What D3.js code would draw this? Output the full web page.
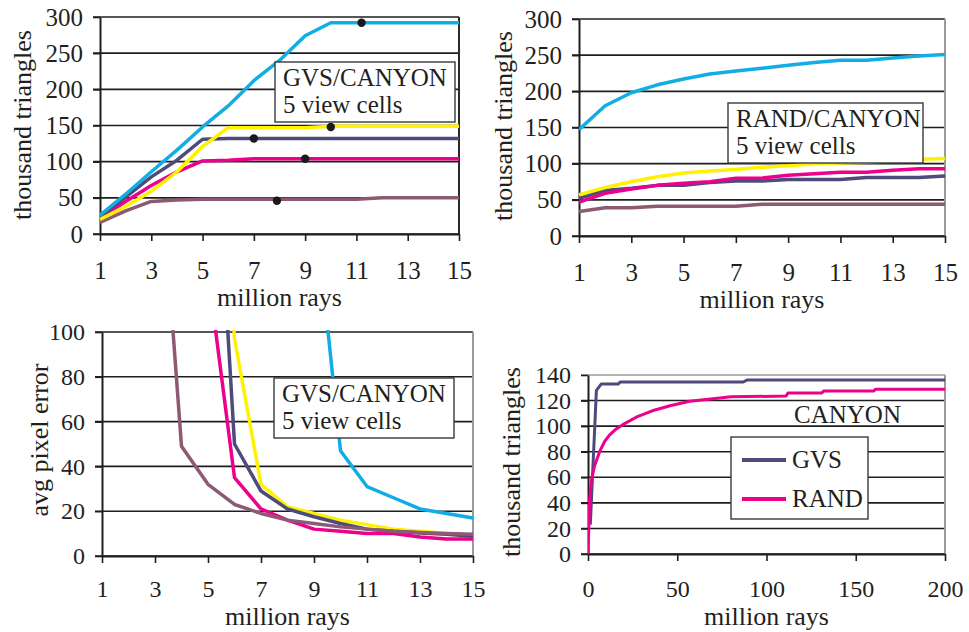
<!DOCTYPE html>
<html>
<head>
<meta charset="utf8" />
<script src="https://cdn.jsdelivr.net/npm/d3@7"></script>
<style>
  body { margin: 0; background: #fff; }
  text { font-family: "Liberation Serif", "Times New Roman", serif; fill: #231f20; }
</style>
</head>
<body>
<script>
// ---- data ----
var rays = [1, 2, 3, 4, 5, 6, 7, 8, 9, 10, 11, 12, 13, 14, 15];
var oddTicks = [1, 3, 5, 7, 9, 11, 13, 15];

// top-left: GVS, thousand triangles
var gvsCyan    = [26, 55, 86, 116, 148, 177, 212, 240, 274, 292, 292, 292, 292, 292, 292];
var gvsYellow  = [20, 38, 59, 86, 121, 147, 147, 147, 147, 149, 149, 149, 149, 149, 149];
var gvsNavy    = [24, 51, 79, 102, 131, 132, 132, 132, 132, 132, 132, 132, 132, 132, 132];
var gvsMagenta = [22, 45, 67, 86, 101, 102, 104, 104, 104, 104, 104, 104, 104, 104, 104];
var gvsMauve   = [16, 32, 45, 47, 48, 48, 48, 48, 48, 48, 48, 50, 50, 50, 50];
var gvsDotX = [11.2, 10, 7, 9, 7.9];
var gvsDotY = [292, 148, 132, 104, 46];

// top-right: RAND, thousand triangles
var randCyan    = [147, 180, 198, 209, 217, 224, 228, 232, 236, 240, 243, 243, 246, 249, 251];
var randYellow  = [57, 67, 75, 82, 87, 90, 92, 95, 97, 100, 101, 102, 104, 106, 107];
var randNavy    = [52, 63, 66, 70, 70, 74, 76, 76, 78, 78, 78, 81, 81, 81, 83];
var randMagenta = [47, 59, 65, 70, 73, 75, 80, 80, 84, 86, 88, 88, 91, 93, 93];
var randMauve   = [34, 39, 39, 41, 41, 41, 41, 44, 44, 44, 44, 44, 44, 44, 44];

// bottom-left: GVS, avg pixel error (values above 100 are clipped by the plot)
var errCyan    = [null, null, null, null, null, null, null, null, 160, 47, 31, 26, 21, 19, 17];
var errYellow  = [null, null, null, null, 300, 97, 32, 22, 19, 16, 14, 12, 11, 10, 8.5];
var errNavy    = [null, null, null, null, 249, 50, 29, 21, 17.5, 14.5, 12, 11, 10.3, 9.7, 8.8];
var errMagenta = [null, null, null, null, 127, 35, 21, 16, 12, 11, 10, 10, 8.5, 7.6, 7.6];
var errMauve   = [null, null, 209, 49, 32, 23, 19, 16, 14.5, 13, 12, 11, 10.5, 10, 9.7];

// bottom-right: CANYON, GVS vs RAND
var canyonGvsRays  = [1.3, 4.7, 7.5, 17, 18, 87, 89, 200];
var canyonGvsTris  = [23, 128, 133, 133, 134.5, 134.5, 136, 136];
var canyonRandRays = [0, 0.9, 1.9, 3.7, 6.5, 9.3, 12, 16, 20.5, 27, 36, 46, 57, 70, 80, 111, 112, 131, 132, 160, 161, 200];
var canyonRandTris = [0, 42, 58, 69, 80, 88, 93, 98, 102, 107, 112, 116, 119.5, 121.5, 123, 123.5, 126, 126, 127.4, 127.4, 128.8, 128.8];

var cyan = "#13ade6", yellow = "#fff200", navy = "#4c4b7c", magenta = "#ec008c", mauve = "#8c5a72";
var serif = '"Liberation Serif", "Times New Roman", serif';

var svg = d3.select("body").append("svg")
  .attr("width", 969)
  .attr("height", 632);

var panelId = 0;

function drawPanel(p) {
  panelId++;
  var x = d3.scaleLinear().domain(p.xDomain).range([p.left, p.right]);
  var y = d3.scaleLinear().domain(p.yDomain).range([p.bottom, p.top]);
  var g = svg.append("g");

  var clipId = "clip" + panelId;
  svg.append("clipPath").attr("id", clipId)
    .append("rect")
    .attr("x", p.left).attr("y", p.top - 2)
    .attr("width", p.right - p.left + 2).attr("height", p.bottom - p.top + 2);

  // gridlines
  g.selectAll(".grid")
    .data(p.yTicks)
    .enter()
    .append("line")
    .attr("x1", p.left - 7)
    .attr("x2", p.right)
    .attr("y1", function(d) { return y(d); })
    .attr("y2", function(d) { return y(d); })
    .attr("stroke", function(d) { return (d == p.yDomain[1] && p.topGray) ? "#9a9a9a" : "#1e1e1e"; })
    .attr("stroke-width", 1.6);

  // right border
  g.append("line")
    .attr("x1", p.right).attr("x2", p.right)
    .attr("y1", p.top).attr("y2", p.bottom)
    .attr("stroke", p.borderColor)
    .attr("stroke-width", 2);

  // y axis
  var yAxis = g.append("g")
    .attr("transform", "translate(" + p.left + ",0)")
    .call(d3.axisLeft(y).tickValues(p.yTicks).tickSize(7).tickSizeOuter(0).tickPadding(10));
  yAxis.attr("font-family", serif).attr("font-size", p.tickFont);
  yAxis.selectAll("text").attr("fill", "#231f20");

  // x axis
  var xAxis = g.append("g")
    .attr("transform", "translate(0," + p.bottom + ")")
    .call(d3.axisBottom(x).tickValues(p.xTicks).tickSize(7).tickSizeOuter(0).tickPadding(p.tickPad));
  xAxis.attr("font-family", serif).attr("font-size", p.tickFont);
  xAxis.selectAll("text").attr("fill", "#231f20");

  g.selectAll(".domain").attr("stroke", "#1e1e1e").attr("stroke-width", 2);
  g.selectAll(".tick line").attr("stroke", "#1e1e1e").attr("stroke-width", 1.6);

  // axis titles
  g.append("text")
    .attr("x", (p.left + p.right) / 2)
    .attr("y", p.bottom + p.titleGap)
    .attr("text-anchor", "middle")
    .style("font-size", "26px")
    .text("million rays");

  g.append("text")
    .attr("transform", "translate(" + p.yTitleX + "," + p.yTitleY + ") rotate(-90)")
    .attr("text-anchor", "middle")
    .style("font-size", "26px")
    .text(p.yTitle);

  // series
  var lines = g.append("g").attr("clip-path", "url(#" + clipId + ")");
  p.series.forEach(function(s) {
    var pts = s.xs.map(function(v, i) { return [v, s.ys[i]]; });
    var line = d3.line()
      .defined(function(d) { return d[1] != null; })
      .x(function(d) { return x(d[0]); })
      .y(function(d) { return y(d[1]); });
    lines.append("path")
      .datum(pts)
      .attr("d", line)
      .attr("fill", "none")
      .attr("stroke", s.color)
      .attr("stroke-width", p.lineWidth)
      .attr("stroke-linejoin", "round");
  });

  return { x: x, y: y, g: g };
}

function noteBox(g, bx, by, bw, bh, lines) {
  g.append("rect")
    .attr("x", bx).attr("y", by)
    .attr("width", bw).attr("height", bh)
    .attr("fill", "#fff")
    .attr("stroke", "#3a3a3a")
    .attr("stroke-width", 1.4);
  lines.forEach(function(t, i) {
    g.append("text")
      .attr("x", bx + 8)
      .attr("y", by + 24 + i * 27)
      .style("font-size", "25px")
      .text(t);
  });
}

// top-left
var p1 = drawPanel({
  left: 100, right: 459, top: 17, bottom: 234,
  xDomain: [1, 15], yDomain: [0, 300],
  xTicks: oddTicks, yTicks: [0, 50, 100, 150, 200, 250, 300],
  borderColor: "#2a2a2a", topGray: false, lineWidth: 3.5, tickFont: 25, tickPad: 20, titleGap: 72,
  yTitle: "thousand triangles", yTitleX: 31, yTitleY: 125,
  series: [
    { xs: rays, ys: gvsMauve, color: mauve },
    { xs: rays, ys: gvsMagenta, color: magenta },
    { xs: rays, ys: gvsNavy, color: navy },
    { xs: rays, ys: gvsYellow, color: yellow },
    { xs: rays, ys: gvsCyan, color: cyan }
  ]
});
noteBox(p1.g, 275, 62, 180, 60, ["GVS/CANYON", "5 view cells"]);
p1.g.selectAll(".dot")
  .data(gvsDotX)
  .enter()
  .append("circle")
  .attr("cx", function(d) { return p1.x(d); })
  .attr("cy", function(d, i) { return p1.y(gvsDotY[i]); })
  .attr("r", 4.2)
  .attr("fill", "#1a1a1a");

// top-right
var p2 = drawPanel({
  left: 579, right: 945, top: 19, bottom: 236,
  xDomain: [1, 15], yDomain: [0, 300],
  xTicks: oddTicks, yTicks: [0, 50, 100, 150, 200, 250, 300],
  borderColor: "#9a9a9a", topGray: false, lineWidth: 3.5, tickFont: 25, tickPad: 20, titleGap: 72,
  yTitle: "thousand triangles", yTitleX: 512, yTitleY: 126,
  series: [
    { xs: rays, ys: randMauve, color: mauve },
    { xs: rays, ys: randNavy, color: navy },
    { xs: rays, ys: randYellow, color: yellow },
    { xs: rays, ys: randMagenta, color: magenta },
    { xs: rays, ys: randCyan, color: cyan }
  ]
});
noteBox(p2.g, 728, 103, 195, 60, ["RAND/CANYON", "5 view cells"]);

// bottom-left
var p3 = drawPanel({
  left: 102, right: 473, top: 332, bottom: 556,
  xDomain: [1, 15], yDomain: [0, 100],
  xTicks: oddTicks, yTicks: [0, 20, 40, 60, 80, 100],
  borderColor: "#9a9a9a", topGray: false, lineWidth: 3.5, tickFont: 24, tickPad: 17, titleGap: 69,
  yTitle: "avg pixel error", yTitleX: 48, yTitleY: 440,
  series: [
    { xs: rays, ys: errCyan, color: cyan },
    { xs: rays, ys: errYellow, color: yellow },
    { xs: rays, ys: errNavy, color: navy },
    { xs: rays, ys: errMagenta, color: magenta },
    { xs: rays, ys: errMauve, color: mauve }
  ]
});
noteBox(p3.g, 274, 378, 180, 60, ["GVS/CANYON", "5 view cells"]);

// bottom-right
var p4 = drawPanel({
  left: 588, right: 945, top: 375, bottom: 554,
  xDomain: [0, 200], yDomain: [0, 140],
  xTicks: [0, 50, 100, 150, 200], yTicks: [0, 20, 40, 60, 80, 100, 120, 140],
  borderColor: "#9a9a9a", topGray: true, lineWidth: 3, tickFont: 24, tickPad: 19, titleGap: 71,
  yTitle: "thousand triangles", yTitleX: 520, yTitleY: 462,
  series: [
    { xs: canyonGvsRays, ys: canyonGvsTris, color: navy },
    { xs: canyonRandRays, ys: canyonRandTris, color: magenta }
  ]
});
p4.g.append("text")
  .attr("x", 794).attr("y", 423)
  .style("font-size", "25px")
  .text("CANYON");

var legendItems = [{ name: "GVS", color: navy }, { name: "RAND", color: magenta }];
p4.g.append("rect")
  .attr("x", 731).attr("y", 437)
  .attr("width", 137).attr("height", 82)
  .attr("fill", "#fff")
  .attr("stroke", "#3a3a3a")
  .attr("stroke-width", 1.4);
legendItems.forEach(function(d, i) {
  p4.g.append("line")
    .attr("x1", 742).attr("x2", 786)
    .attr("y1", 460 + i * 39).attr("y2", 460 + i * 39)
    .attr("stroke", d.color)
    .attr("stroke-width", 4);
  p4.g.append("text")
    .attr("x", 792).attr("y", 468 + i * 39)
    .style("font-size", "25px")
    .text(d.name);
});
</script>
</body>
</html>
